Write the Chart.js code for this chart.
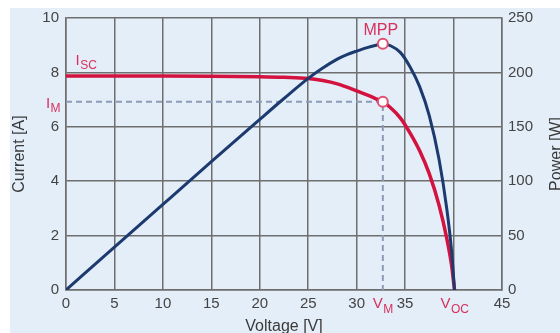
<!DOCTYPE html>
<html>
<head>
<meta charset="utf-8">
<script src="https://cdn.jsdelivr.net/npm/chart.js@4"></script>
<style>
  html, body { margin: 0; padding: 0; background: #fff; }
  canvas { display: block; }
</style>
</head>
<body>
<canvas id="myChart" width="560" height="333"></canvas>
<script>
// I-V curve of the module
var voltage = [0, 5, 10, 15, 20, 22.5, 25, 26.5, 28, 29, 30, 31, 32, 32.7, 33.5, 34.5, 35.5, 36.5, 37.5, 38.5, 39.3, 39.8, 40.1];
var current = [7.87, 7.87, 7.87, 7.86, 7.84, 7.82, 7.78, 7.7, 7.58, 7.46, 7.32, 7.18, 7.03, 6.92, 6.7, 6.33, 5.78, 5.12, 4.27, 3.12, 1.9, 0.9, 0];
var power   = [0, 39.4, 78.7, 117.9, 156.8, 176, 194.5, 204, 212.2, 216.3, 219.6, 222.6, 225, 226.3, 224.5, 218.4, 205.2, 186.9, 160.1, 120.1, 74.7, 35.8, 0];

// maximum power point
var mppV = 32.7;
var mppI = 6.92;
var mppP = 226.3;

var xTicks = [0, 5, 10, 15, 20, 25, 30, 35, 40, 45];

var red = '#d3123f';
var redText = '#d8305c';
var blue = '#1d3a6e';
var gridCol = '#6e6e6e';
var font = '"Liberation Sans", Arial, sans-serif';

function pts(xs, ys) {
    return xs.map(function (x, i) { return { x: x, y: ys[i] }; });
}

function subText(ctx, x, y, main, sub, size) {
    ctx.font = size + 'px ' + font;
    var w1 = ctx.measureText(main).width;
    ctx.font = Math.round(size * 0.8) + 'px ' + font;
    var w2 = ctx.measureText(sub).width;
    var left = x - (w1 + w2) / 2;
    ctx.font = size + 'px ' + font;
    ctx.fillText(main, left, y);
    ctx.font = Math.round(size * 0.8) + 'px ' + font;
    ctx.fillText(sub, left + w1 + 0.5, y + size * 0.3);
}

var decor = {
    id: 'decor',
    beforeDraw: function (chart) {
        var ctx = chart.ctx;
        ctx.save();
        ctx.fillStyle = '#fff';
        ctx.fillRect(0, 0, chart.width, chart.height);
        ctx.fillStyle = '#e4eef9';
        ctx.fillRect(10, 8, chart.width - 10, chart.height - 8);
        ctx.restore();
    },
    afterDraw: function (chart) {
        var ctx = chart.ctx;
        var xs = chart.scales.x, ys = chart.scales.y, ps = chart.scales.y1;
        var area = chart.chartArea;
        ctx.save();
        // axis titles
        ctx.fillStyle = '#3a3a3a';
        ctx.font = '16px ' + font;
        ctx.textAlign = 'center';
        ctx.textBaseline = 'alphabetic';
        ctx.fillText('Voltage [V]', (area.left + area.right) / 2, 331);
        ctx.textBaseline = 'middle';
        ctx.save();
        ctx.translate(20, (area.top + area.bottom) / 2);
        ctx.rotate(-Math.PI / 2);
        ctx.fillText('Current [A]', 0, 0);
        ctx.restore();
        ctx.save();
        ctx.translate(557, (area.top + area.bottom) / 2);
        ctx.rotate(-Math.PI / 2);
        ctx.fillText('Power [W]', 0, 0);
        ctx.restore();

        // red annotations
        ctx.fillStyle = redText;
        ctx.textAlign = 'left';
        ctx.textBaseline = 'alphabetic';
        subText(ctx, xs.getPixelForValue(0) + 20, ys.getPixelForValue(current[0]) - 11, 'I', 'SC', 15);
        subText(ctx, xs.getPixelForValue(0) - 13, ys.getPixelForValue(mppI) + 6, 'I', 'M', 15);
        ctx.font = '16px ' + font;
        ctx.textAlign = 'center';
        ctx.fillText('MPP', xs.getPixelForValue(mppV) - 2, ps.getPixelForValue(mppP) - 9);
        ctx.textAlign = 'left';
        subText(ctx, xs.getPixelForValue(mppV), area.bottom + 18, 'V', 'M', 15);
        subText(ctx, xs.getPixelForValue(voltage[voltage.length - 1]), area.bottom + 18, 'V', 'OC', 15);
        ctx.restore();
    }
};

var ctx = document.getElementById('myChart').getContext('2d');
var chart = new Chart(ctx, {
    type: 'line',
    plugins: [decor],
    data: {
        datasets: [{
            label: 'MPP current',
            type: 'scatter',
            data: [{ x: mppV, y: mppI }],
            yAxisID: 'y',
            pointRadius: 5,
            pointBorderWidth: 2,
            pointBackgroundColor: '#fff',
            pointBorderColor: '#e05070',
            order: -1
        }, {
            label: 'MPP power',
            type: 'scatter',
            data: [{ x: mppV, y: mppP }],
            yAxisID: 'y1',
            pointRadius: 5,
            pointBorderWidth: 2,
            pointBackgroundColor: '#fff',
            pointBorderColor: '#e05070',
            order: -1
        }, {
            label: 'Power',
            data: pts(voltage, power),
            yAxisID: 'y1',
            borderColor: blue,
            borderWidth: 3,
            pointRadius: 0,
            cubicInterpolationMode: 'monotone',
            fill: false,
            order: 0
        }, {
            label: 'Current',
            data: pts(voltage, current),
            yAxisID: 'y',
            borderColor: red,
            borderWidth: 3.5,
            pointRadius: 0,
            cubicInterpolationMode: 'monotone',
            fill: false,
            order: 1
        }, {
            label: 'MPP guide',
            data: [{ x: 0, y: mppI }, { x: mppV, y: mppI }, { x: mppV, y: 0 }],
            yAxisID: 'y',
            borderColor: '#8c9bb6',
            borderWidth: 2,
            borderDash: [6, 4],
            pointRadius: 0,
            tension: 0,
            fill: false,
            order: 2
        }]
    },
    options: {
        responsive: false,
        animation: false,
        layout: { padding: { top: 18, left: 0, right: 0, bottom: 0 } },
        plugins: {
            legend: { display: false },
            tooltip: { enabled: false }
        },
        scales: {
            x: {
                type: 'linear',
                min: 0,
                max: 45,
                afterFit: function (s) { s.height = 43; },
                afterBuildTicks: function (s) { s.ticks = xTicks.map(function (v) { return { value: v }; }); },
                ticks: {
                    padding: 5,
                    color: '#444',
                    font: { family: font, size: 15 },
                    maxRotation: 0,
                    callback: function (v) { return v === 40 ? '' : v; }
                },
                grid: { color: gridCol, lineWidth: 1.5, drawTicks: false },
                border: { color: gridCol, width: 1.5 }
            },
            y: {
                position: 'left',
                min: 0,
                max: 10,
                afterFit: function (s) { s.width = 66; },
                ticks: {
                    stepSize: 2,
                    padding: 7,
                    color: '#444',
                    font: { family: font, size: 15 }
                },
                grid: { color: gridCol, lineWidth: 1.5, drawTicks: false },
                border: { color: gridCol, width: 1.5 }
            },
            y1: {
                position: 'right',
                min: 0,
                max: 250,
                afterFit: function (s) { s.width = 58; },
                ticks: {
                    stepSize: 50,
                    padding: 6,
                    color: '#444',
                    font: { family: font, size: 15 }
                },
                grid: { display: false, drawTicks: false },
                border: { color: gridCol, width: 1.5 }
            }
        }
    }
});
</script>
</body>
</html>
